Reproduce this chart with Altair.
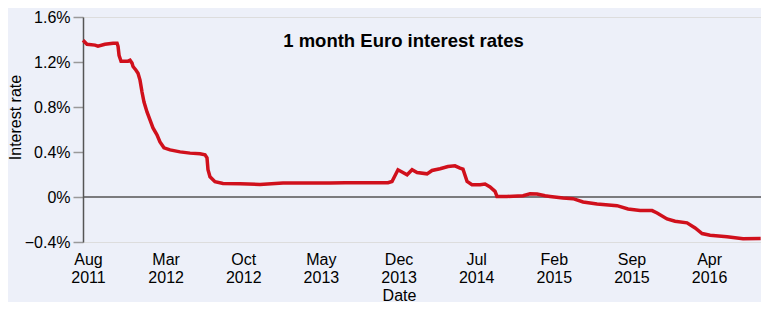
import altair as alt
import pandas as pd

# month index (0 = start of Aug 2011) and 1-month Euro rate in %
months = [0.0, 0.36, 1.08, 1.35, 1.98, 2.71, 3.07, 3.16, 3.25, 3.43, 4.06, 4.24, 4.42, 4.51,
          4.78, 4.96, 5.14, 5.32, 5.50, 5.77, 6.04, 6.31, 6.67, 6.94, 7.30, 7.85, 8.75,
          9.65, 10.55, 11.0, 11.18, 11.27, 11.45, 11.90, 12.62, 14.16, 15.96, 18.03, 22.27,
          23.62, 27.5, 27.86, 28.40, 29.22, 29.67, 30.12, 31.02, 31.47, 32.19, 32.91, 33.54,
          33.99, 34.26, 34.63, 35.07, 35.80, 36.25, 36.70, 37.15, 37.33, 38.23, 39.68, 40.31,
          40.94, 41.66, 42.11, 43.28, 44.18, 45.09, 46.35, 48.15, 49.14, 50.23, 51.31, 51.76,
          52.66, 53.38, 54.46, 55.19, 55.82, 56.54, 58.07, 59.51, 61.1]
rates = [1.393, 1.358, 1.350, 1.340, 1.358, 1.367, 1.367, 1.340, 1.260, 1.207, 1.207, 1.215,
         1.190, 1.160, 1.127, 1.100, 1.039, 0.933, 0.844, 0.756, 0.685, 0.614, 0.552, 0.490,
         0.437, 0.419, 0.401, 0.390, 0.384, 0.375, 0.348, 0.242, 0.180, 0.136, 0.120, 0.118,
         0.112, 0.124, 0.124, 0.127, 0.127, 0.138, 0.242, 0.198, 0.242, 0.218, 0.206, 0.236,
         0.251, 0.271, 0.277, 0.257, 0.248, 0.138, 0.109, 0.109, 0.115, 0.089, 0.050, 0.005,
         0.005, 0.011, 0.029, 0.027, 0.011, 0.005, -0.009, -0.015, -0.044, -0.062, -0.077,
         -0.106, -0.119, -0.121, -0.142, -0.195, -0.216, -0.230, -0.275, -0.325, -0.340,
         -0.354, -0.372, -0.369]

tick_mon = ['Aug', 'Mar', 'Oct', 'May', 'Dec', 'Jul', 'Feb', 'Sep', 'Apr']
tick_year = ['2011', '2012', '2012', '2013', '2013', '2014', '2015', '2015', '2016']
tick_pos = [0.45 + 7 * k for k in range(len(tick_mon))]
y_ticks = [-0.4, 0.0, 0.4, 0.8, 1.2, 1.6]

df = pd.DataFrame({'month': months, 'rate': rates})
zero = pd.DataFrame({'rate': [0.0]})

x_label_expr = "[" + ",".join(f"['{m}','{y}']" for m, y in zip(tick_mon, tick_year)) + \
    "][round((datum.value - 0.45) / 7)]"
y_label_expr = "datum.value == 0 ? '0%' : format(datum.value, '.1f') + '%'"

x_scale = alt.Scale(domain=[0, 61.13], nice=False, zero=False)
y_scale = alt.Scale(domain=[-0.4, 1.6], nice=False)

x_axis = alt.Axis(values=tick_pos, labelExpr=x_label_expr, domain=False, ticks=False, grid=False,
                  labelFontSize=16, labelLineHeight=18, labelPadding=9, labelColor='black',
                  title='Date', titleFontSize=16, titleFontWeight='normal', titleColor='black',
                  titleBaseline='alphabetic', titleY=58, titleX=316)
y_axis = alt.Axis(values=y_ticks, labelExpr=y_label_expr, grid=False, tickSize=10,
                  tickColor='#999999', tickWidth=1.5, domainColor='#555555', domainWidth=1.5,
                  labelFontSize=16, labelPadding=3, labelColor='black',
                  title='Interest rate', titleFontSize=16, titleFontWeight='normal',
                  titleColor='black', titleBaseline='alphabetic', titleX=-63, titleY=100)

rule = alt.Chart(zero).mark_rule(color='#555555', strokeWidth=1.5).encode(
    y=alt.Y('rate:Q', scale=y_scale, axis=y_axis)
)
line = alt.Chart(df).mark_line(color='#d0101c', strokeWidth=3.5).encode(
    x=alt.X('month:Q', scale=x_scale, axis=x_axis),
    y=alt.Y('rate:Q', scale=y_scale, axis=y_axis)
)

chart = alt.layer(rule, line).properties(
    width=678, height=225,
    autosize=alt.AutoSizeParams(type='none'),
    padding={'left': 75, 'top': 9, 'right': 0, 'bottom': 60},
    background='#edf0f9',
    title=alt.TitleParams('1 month Euro interest rates', fontSize=18.5, fontWeight='bold',
                          color='black', anchor='middle', dx=-18.5, offset=-56,
                          baseline='alphabetic'),
).configure_view(stroke=None).configure(font='Liberation Sans')

chart.save('out.html', embed_options={'renderer': 'svg', 'actions': False})
